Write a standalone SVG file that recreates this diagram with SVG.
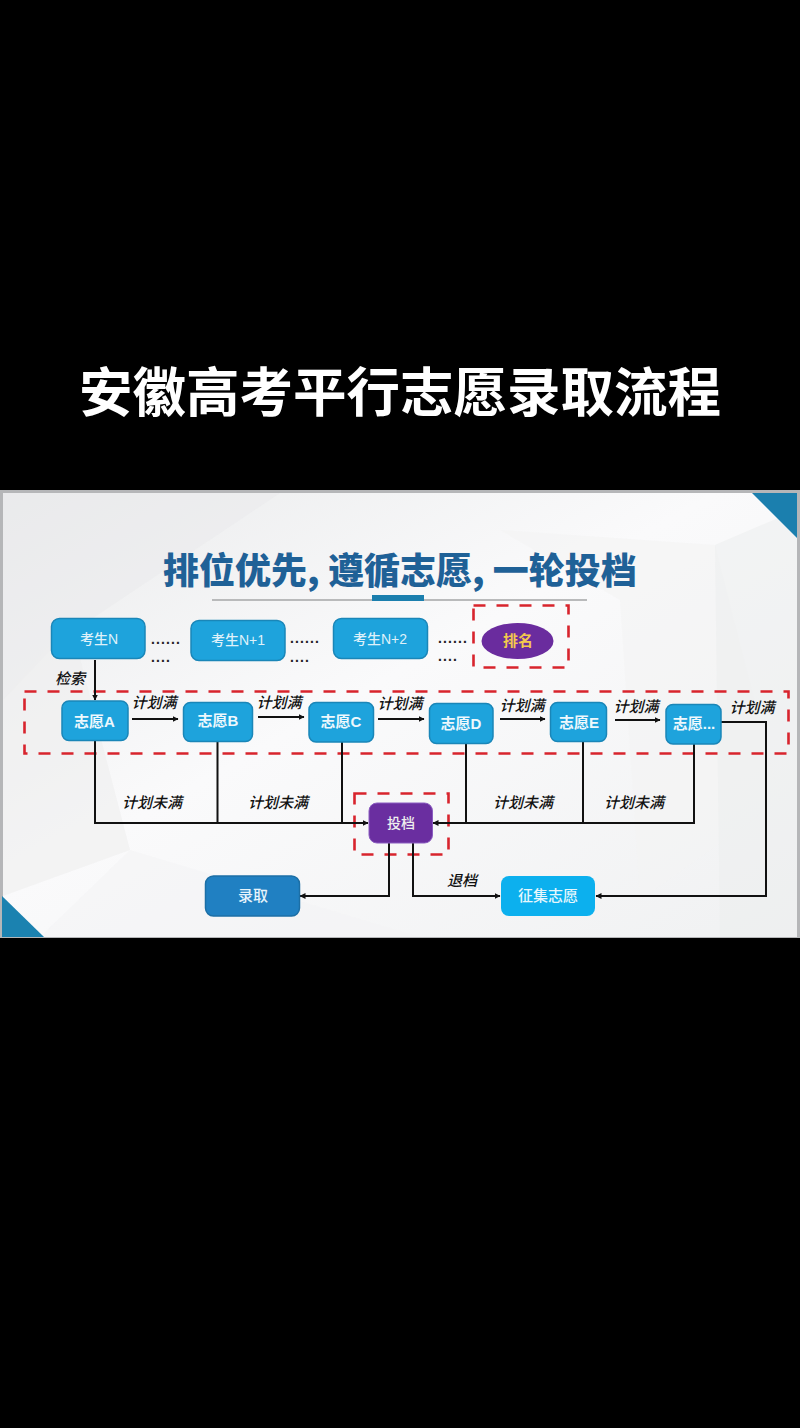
<svg xmlns="http://www.w3.org/2000/svg" width="800" height="1428" viewBox="0 0 800 1428">
<style>
text{font-family:"Liberation Sans","Noto Sans CJK SC",sans-serif;text-anchor:middle}
.n{stroke:#1a86b8;stroke-width:1.5}
.t{fill:#eef8fd;font-size:15px;font-weight:700}
.k{fill:#dff1fa;font-size:14px;font-weight:500}
.l{fill:#111;font-size:15px;font-style:italic;font-weight:500}
.d{fill:none;stroke:#d8242d;stroke-width:2.6;stroke-dasharray:12 11}
.c{fill:none;stroke:#111;stroke-width:2}
.a{marker-end:url(#ah)}
.dot{fill:#222;font-size:14px;font-weight:700;text-anchor:start;letter-spacing:1.1px}
</style>
<defs>
<marker id="ah" markerWidth="7" markerHeight="7" refX="5.5" refY="3" orient="auto" markerUnits="userSpaceOnUse"><path d="M0 0L6 3L0 6Z" fill="#111"/></marker>
<linearGradient id="bg" x1="0" y1="0" x2="1" y2="1"><stop offset="0" stop-color="#eaebec"/><stop offset=".45" stop-color="#fafafb"/><stop offset="1" stop-color="#f0f1f2"/></linearGradient>
</defs>
<rect width="800" height="1428" fill="#000"/>
<text x="400" y="412" font-size="53.500" font-weight="700" fill="#fff" style="font-family:'Noto Sans CJK SC',sans-serif">安徽高考平行志愿录取流程</text>
<g id="panel">
<rect x="0" y="490" width="800" height="448" fill="#b5b6b8"/>
<rect x="3" y="493" width="794" height="444" fill="url(#bg)"/>
<polygon points="3,493 280,493 60,640 3,700" fill="#e9eaeb" opacity=".5"/>
<polygon points="3,700 70,620 130,850 3,896" fill="#eeeeef" opacity=".6"/>
<polygon points="500,530 715,545 780,800 640,900 620,600" fill="#f3f3f4" opacity=".6"/>
<polygon points="715,545 797,510 797,937 720,937" fill="#ecedee" opacity=".5"/>
<polygon points="130,850 420,937 40,937" fill="#f4f4f5" opacity=".6"/>
<polygon points="752,493 797,493 797,538" fill="#1b7fae"/>
<polygon points="2,896 2,937 44,937" fill="#1b82b0"/>
<text x="400" y="584" font-size="36" font-weight="900" fill="#1f6197" style="font-family:'Noto Sans CJK SC',sans-serif">排位优先, 遵循志愿, 一轮投档</text>
<rect x="212" y="599" width="375" height="2" fill="#b9babb"/>
<rect x="372" y="595" width="52" height="6" fill="#1b7fae"/>
</g>
<g id="dash-boxes">
<rect class="d" x="473.500" y="605.500" width="95" height="62"/>
<rect class="d" x="24.500" y="691.500" width="764" height="62"/>
<rect class="d" x="354.500" y="793.500" width="94" height="61"/>
</g>
<g id="connectors">
<path class="c a" d="M95 660V700"/>
<path class="c a" d="M132 719H178"/>
<path class="c a" d="M258 717H304"/>
<path class="c a" d="M378 719H424"/>
<path class="c a" d="M500 719H545"/>
<path class="c a" d="M615 720H660"/>
<path class="c a" d="M95 740V823H368"/>
<path class="c" d="M217.500 741V823M342 742V823M466 744V823M583 741V823"/>
<path class="c a" d="M694 744V823H433"/>
<path class="c a" d="M389 843V896H300"/>
<path class="c a" d="M413 843V896H500"/>
<path class="c a" d="M721 722H766V896H596"/>
</g>
<g id="node-kaosheng-n"><rect class="n" x="51.500" y="618.500" width="93.500" height="40" rx="8" fill="#1ea3dc"/><text class="k" x="99" y="644">考生N</text></g>
<g id="node-kaosheng-n1"><rect class="n" x="191" y="620.500" width="94" height="40" rx="8" fill="#1ea3dc"/><text class="k" x="238" y="645">考生N+1</text></g>
<g id="node-kaosheng-n2"><rect class="n" x="333.500" y="618.500" width="94" height="40" rx="8" fill="#1ea3dc"/><text class="k" x="380" y="644">考生N+2</text></g>
<g id="dots">
<text class="dot" x="151" y="644">......</text><text class="dot" x="151" y="662">....</text>
<text class="dot" x="290" y="643">......</text><text class="dot" x="290" y="662">....</text>
<text class="dot" x="438" y="643">......</text><text class="dot" x="438" y="661">....</text>
</g>
<g id="node-paiming"><ellipse cx="517.500" cy="641" rx="36" ry="18" fill="#6a2c9e"/><text x="518" y="646" font-size="15" font-weight="700" fill="#f3c94d">排名</text></g>
<g id="node-a"><rect class="n" x="62" y="701" width="66" height="39.500" rx="7" fill="#1ea3dc"/><text class="t" x="94.500" y="727">志愿A</text></g>
<g id="node-b"><rect class="n" x="183.500" y="702.500" width="69" height="39" rx="7" fill="#1ea3dc"/><text class="t" x="218" y="726">志愿B</text></g>
<g id="node-c"><rect class="n" x="309" y="702.500" width="64.500" height="39.500" rx="7" fill="#1ea3dc"/><text class="t" x="341" y="727">志愿C</text></g>
<g id="node-d"><rect class="n" x="429.500" y="703.500" width="63.500" height="40" rx="7" fill="#1ea3dc"/><text class="t" x="461" y="729">志愿D</text></g>
<g id="node-e"><rect class="n" x="550.500" y="702.500" width="56" height="39" rx="7" fill="#1ea3dc"/><text class="t" x="579" y="728">志愿E</text></g>
<g id="node-f"><rect class="n" x="666" y="704.500" width="55" height="39.500" rx="7" fill="#1ea3dc"/><text class="t" x="694" y="729">志愿...</text></g>
<g id="labels">
<text class="l" x="70" y="684">检索</text>
<text class="l" x="154" y="708">计划满</text>
<text class="l" x="279" y="708">计划满</text>
<text class="l" x="400" y="709">计划满</text>
<text class="l" x="522" y="711">计划满</text>
<text class="l" x="636" y="712">计划满</text>
<text class="l" x="752" y="713">计划满</text>
<text class="l" x="152" y="808">计划未满</text>
<text class="l" x="278" y="808">计划未满</text>
<text class="l" x="523" y="808">计划未满</text>
<text class="l" x="634" y="808">计划未满</text>
<text class="l" x="462" y="886">退档</text>
</g>
<g id="node-toudang"><rect x="369" y="803" width="63.500" height="40" rx="8" fill="#6a2ea0" stroke="#8a5cc0" stroke-width="1"/><text x="401" y="828" font-size="14" fill="#eee" font-weight="500">投档</text></g>
<g id="node-luqu"><rect x="205.500" y="876" width="94" height="40" rx="8" fill="#2080c2" stroke="#1c6fa6" stroke-width="1.500"/><text x="253" y="901" font-size="15" fill="#e6f3fb" font-weight="500">录取</text></g>
<g id="node-zhengji"><rect x="501" y="876" width="94" height="40" rx="8" fill="#0cb0ee"/><text x="548" y="901" font-size="15" fill="#e6f7fd" font-weight="500">征集志愿</text></g>
</svg>
